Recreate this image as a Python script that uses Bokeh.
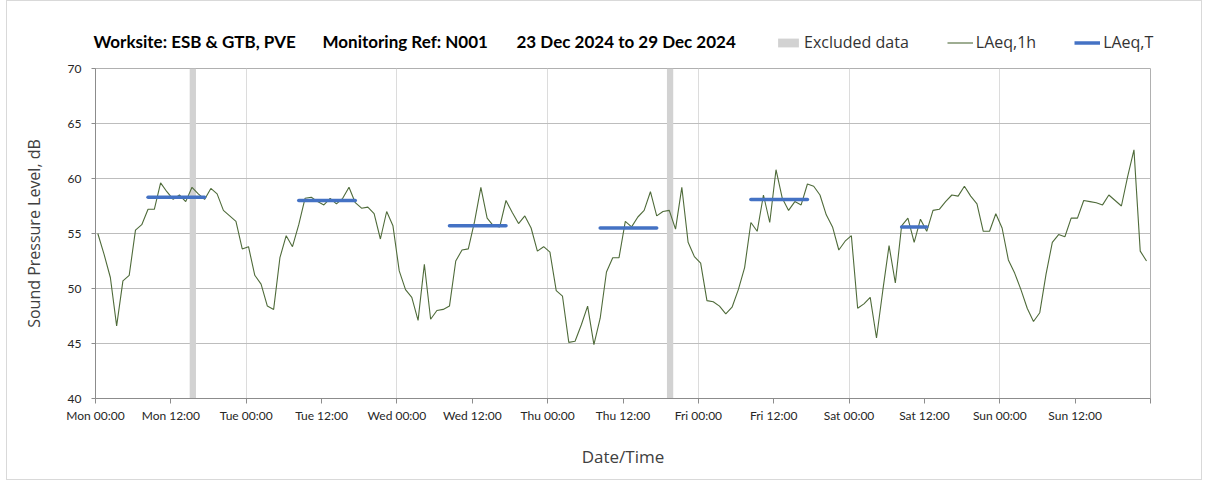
import pandas as pd
from bokeh.plotting import figure
from bokeh.layouts import column
from bokeh.models import (FixedTicker, DatetimeTickFormatter, Range1d, Label,
                          Legend, LegendItem, ColumnDataSource)
from bokeh.embed import file_html
from bokeh.resources import INLINE

# ---------------- data ----------------
week_start = "2024-12-23 00:00"
week_end = "2024-12-30 00:00"

laeq_1h = [
    55.0, 53.1, 51.0, 46.6, 50.7, 51.2, 55.3, 55.8, 57.2, 57.2, 59.6, 58.8,
    58.1, 58.5, 57.9, 59.2, 58.6, 58.1, 59.1, 58.6, 57.1, 56.6, 56.1, 53.6,
    53.8, 51.2, 50.4, 48.4, 48.1, 52.8, 54.8, 53.8, 55.8, 58.2, 58.3, 57.9,
    57.6, 58.2, 57.7, 58.2, 59.2, 57.8, 57.3, 57.4, 56.8, 54.5, 57.0, 55.7,
    51.6, 49.9, 49.2, 47.1, 52.2, 47.2, 48.0, 48.1, 48.4, 52.5, 53.5, 53.6,
    56.1, 59.2, 56.4, 55.7, 55.6, 58.0, 56.9, 55.9, 56.6, 55.5, 53.4, 53.8,
    53.3, 49.8, 49.3, 45.1, 45.2, 46.7, 48.4, 44.9, 47.3, 51.5, 52.8, 52.8,
    56.1, 55.6, 56.5, 57.1, 58.8, 56.6, 57.0, 57.1, 55.4, 59.2, 54.2, 52.9,
    52.3, 48.9, 48.8, 48.4, 47.7, 48.3, 49.9, 51.9, 56.0, 55.2, 58.5, 56.0,
    60.8, 58.2, 57.1, 57.9, 57.6, 59.5, 59.3, 58.5, 56.7, 55.6, 53.5, 54.3,
    54.8, 48.2, 48.6, 49.2, 45.5, 49.8, 53.9, 50.5, 55.7, 56.4, 54.2, 56.3,
    55.2, 57.1, 57.2, 57.9, 58.5, 58.4, 59.3, 58.4, 57.7, 55.2, 55.2, 56.8,
    55.5, 52.6, 51.4, 49.9, 48.2, 47.0, 47.8, 51.3, 54.2, 54.9, 54.7, 56.4,
    56.4, 58.0, 57.9, 57.8, 57.6, 58.5, 58.0, 57.5, 60.2, 62.6, 53.4, 52.5,
]

excluded_start = ["2024-12-23 15:00", "2024-12-26 19:00"]
excluded_end = ["2024-12-23 16:00", "2024-12-26 20:00"]

laeq_t_start = ["2024-12-23 08:00", "2024-12-24 08:00", "2024-12-25 08:00",
                "2024-12-26 08:00", "2024-12-27 08:00", "2024-12-28 08:00"]
laeq_t_end = ["2024-12-23 17:00", "2024-12-24 17:00", "2024-12-25 17:00",
              "2024-12-26 17:00", "2024-12-27 17:00", "2024-12-28 12:00"]
laeq_t = [58.3, 58.0, 55.7, 55.5, 58.1, 55.6]

y_ticks = [40, 45, 50, 55, 60, 65, 70]

title_parts = ["Worksite: ESB & GTB, PVE", "Monitoring Ref: N001",
               "23 Dec 2024 to 29 Dec 2024"]
legend_labels = ["Excluded data", "LAeq,1h", "LAeq,T"]

# ---------------- style ----------------
POINT_SHIFT = pd.Timedelta(minutes=22)
LINE_GREEN = "#4f6b3a"
BLUE = "#4472C4"
BAND_GREY = "#d2d2d2"
TXT = "#262626"
W = 1194
HEAD_H = 60
MAIN_H = 418

t0 = pd.Timestamp(week_start)
t_end = pd.Timestamp(week_end)
times = [t0 + pd.Timedelta(hours=i) + POINT_SHIFT for i in range(len(laeq_1h))]

line_src = ColumnDataSource(dict(t=times, v=laeq_1h))
band_src = ColumnDataSource(dict(l=pd.to_datetime(excluded_start),
                                 r=pd.to_datetime(excluded_end)))
seg_src = ColumnDataSource(dict(x0=pd.to_datetime(laeq_t_start) + POINT_SHIFT,
                                x1=pd.to_datetime(laeq_t_end) + POINT_SHIFT,
                                y=laeq_t))

x_range = Range1d(t0, t_end)

# ---------------- main chart ----------------
p = figure(width=W, height=MAIN_H, x_axis_type="datetime",
           x_range=x_range, y_range=Range1d(40, 70),
           output_backend="svg", toolbar_location=None,
           min_border_left=88, min_border_right=51,
           min_border_top=7, min_border_bottom=81)

p.quad(left="l", right="r", bottom=40, top=70, source=band_src,
       fill_color=BAND_GREY, line_color=None)
p.line("t", "v", source=line_src, line_color=LINE_GREEN, line_width=1.1)
p.segment(x0="x0", y0="y", x1="x1", y1="y", source=seg_src,
          line_color=BLUE, line_width=3.5, line_cap="round")

half_days = [t0 + pd.Timedelta(hours=12 * i) for i in range(14)]
tick_ms = [ts.value // 10**6 for ts in half_days]
day_ms = [(t0 + pd.Timedelta(days=d)).value // 10**6 for d in range(1, 7)]
end_ms = t_end.value // 10**6

p.xaxis.ticker = FixedTicker(ticks=tick_ms, minor_ticks=[end_ms])
fmt = "%a %H:%M"
p.xaxis.formatter = DatetimeTickFormatter(
    milliseconds=fmt, seconds=fmt, minsec=fmt, minutes=fmt, hourmin=fmt,
    hours=fmt, days=fmt, months=fmt, years=fmt)
p.yaxis.ticker = FixedTicker(ticks=y_ticks)

for ax in (p.xaxis[0], p.yaxis[0]):
    ax.axis_line_color = "#8c8c8c"
    ax.major_tick_line_color = "#8c8c8c"
    ax.minor_tick_line_color = "#8c8c8c"
    ax.major_tick_in = 0
    ax.minor_tick_in = 0
    ax.major_label_text_font = "Lato"
    ax.major_label_text_font_size = "12px"
    ax.major_label_text_color = TXT
    ax.axis_label_text_font = "Open Sans"
    ax.axis_label_text_font_style = "normal"
    ax.axis_label_text_color = "#404040"

p.xaxis.axis_label_text_font_size = "17px"
p.yaxis.axis_label_text_font_size = "16px"
p.xaxis.major_tick_out = 5
p.xaxis.minor_tick_out = 5
p.xaxis.major_label_standoff = 4
p.xaxis.axis_label = "Date/Time"
p.xaxis.axis_label_standoff = 19
p.yaxis.major_tick_out = 4
p.yaxis.minor_tick_out = 0
p.yaxis.major_label_standoff = 10
p.yaxis.axis_label = "Sound Pressure Level, dB"
p.yaxis.axis_label_standoff = 20

p.xgrid.ticker = FixedTicker(ticks=day_ms)
p.xgrid.grid_line_color = "#dcdcdc"
p.ygrid.ticker = FixedTicker(ticks=y_ticks)
p.ygrid.grid_line_color = "#bdbdbd"
p.outline_line_color = "#b0b0b0"
p.background_fill_color = "white"
p.border_fill_color = "white"

# ---------------- header (title + legend) ----------------
# shares the time axis; its y window (0..1) keeps the legend proxies out of view
head = figure(width=W, height=HEAD_H, x_axis_type="datetime", x_range=x_range,
              y_range=Range1d(0, 1), output_backend="svg",
              toolbar_location=None, min_border=0)
head.axis.visible = False
head.grid.visible = False
head.outline_line_color = None
head.background_fill_color = "white"
head.border_fill_color = "white"

if "frame_align" in head.properties():
    head.frame_align = False
    x_off = 0            # header frame spans the full width
else:
    x_off = 88           # header frame aligned with the chart frame

title_x = [86, 315, 509]
for txt, xpos in zip(title_parts, title_x):
    head.add_layout(Label(x=xpos - x_off, y=20, x_units="screen",
                          y_units="screen",
                          text=txt, text_font="Lato", text_font_style="bold",
                          text_font_size="17px", text_color="#000000",
                          text_baseline="middle", text_align="left"))

lg_band = head.quad(left="l", right="r", bottom=40, top=70, source=band_src,
                    fill_color=BAND_GREY, line_color=None)
lg_line = head.line("t", "v", source=line_src, line_color=LINE_GREEN,
                    line_width=1.1)
lg_seg = head.segment(x0="x0", y0="y", x1="x1", y1="y", source=seg_src,
                      line_color=BLUE, line_width=3.5)
legend = Legend(items=[LegendItem(label=legend_labels[0], renderers=[lg_band]),
                       LegendItem(label=legend_labels[1], renderers=[lg_line]),
                       LegendItem(label=legend_labels[2], renderers=[lg_seg])],
                orientation="horizontal", location=(768 - x_off, 8),
                glyph_width=26, glyph_height=11, label_standoff=3, spacing=38,
                padding=0, margin=0, border_line_color=None,
                background_fill_alpha=0, label_text_font="Open Sans",
                label_text_font_size="16px", label_text_color="#333333")
head.add_layout(legend)

page = column(head, p, spacing=0)
page.styles = {"border": "1px solid #d9d9d9", "margin-left": "6px"}

open("out.html", "w").write(file_html(page, INLINE))
